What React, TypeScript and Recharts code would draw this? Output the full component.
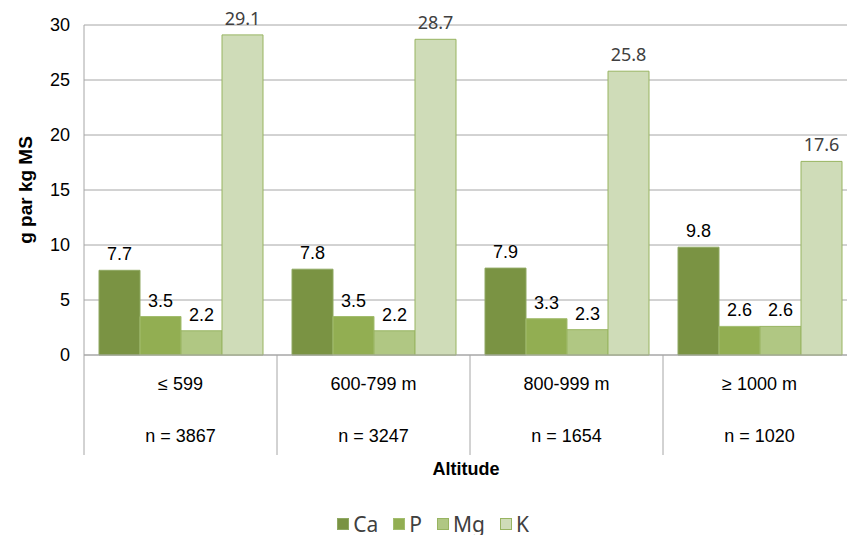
import { BarChart, Bar, XAxis, YAxis, CartesianGrid, LabelList, Label } from "recharts";

const categories = ["≤ 599", "600-799 m", "800-999 m", "≥ 1000 m"];
const counts = ["n = 3867", "n = 3247", "n = 1654", "n = 1020"];
const ca = [7.7, 7.8, 7.9, 9.8];
const p = [3.5, 3.5, 3.3, 2.6];
const mg = [2.2, 2.2, 2.3, 2.6];
const k = [29.1, 28.7, 25.8, 17.6];
const yTicks = [0, 5, 10, 15, 20, 25, 30];

const series = [
  { key: "Ca", fill: "#7A9343", stroke: "#8FA862" },
  { key: "P", fill: "#92AE52", stroke: "#A3BD6E" },
  { key: "Mg", fill: "#B0C783", stroke: "#98B461" },
  { key: "K", fill: "#CFDCB8", stroke: "#98B461" },
];

const data = categories.map((cat, i) => ({
  cat,
  n: counts[i],
  Ca: ca[i],
  P: p[i],
  Mg: mg[i],
  K: k[i],
}));

const ARIAL = "'Liberation Sans', Arial, sans-serif";
const MALGUN = "'Noto Sans', 'Open Sans', sans-serif";

const CategoryTick = ({ x, y, payload, index }: any) => {
  const half = payload?.offset ?? 96.5;
  const row = data[index] ?? data.find((d) => d.cat === payload.value);
  return (
    <g>
      <line x1={x - half} y1={y} x2={x - half} y2={y + 100} stroke="#A6A6A6" strokeWidth={1} />
      <text x={x} y={y + 35} textAnchor="middle" fontSize={18} fontFamily={ARIAL} fill="#000">
        {payload.value}
      </text>
      <text x={x} y={y + 87} textAnchor="middle" fontSize={18} fontFamily={ARIAL} fill="#000">
        {row?.n}
      </text>
    </g>
  );
};

const makeLabel = (dark: boolean) => (props: any) => {
  const { x, y, width, value } = props;
  return (
    <text
      x={x + width / 2}
      y={y - 10}
      textAnchor="middle"
      fontSize={18}
      fontFamily={dark ? ARIAL : MALGUN}
      fill={dark ? "#000" : "#404040"}
    >
      {value}
    </text>
  );
};

export default function App() {
  return (
    <div
      style={{
        position: "absolute",
        left: 0,
        top: 0,
        width: 847,
        height: 535,
        overflow: "hidden",
        background: "#fff",
      }}
    >
      <BarChart
        width={860}
        height={535}
        data={data}
        margin={{ top: 25, right: 4, left: 0, bottom: 80 }}
        barCategoryGap={15}
        barGap={0}
      >
        <CartesianGrid vertical={false} stroke="#A6A6A6" />
        <XAxis
          dataKey="cat"
          height={100}
          interval={0}
          tickSize={0}
          tickMargin={0}
          axisLine={{ stroke: "#A6A6A6" }}
          tick={<CategoryTick />}
        >
          <Label
            value="Altitude"
            position="bottom"
            offset={7}
            dx={-4}
            style={{ fontFamily: ARIAL, fontSize: 18, fontWeight: "bold", fill: "#000" }}
          />
        </XAxis>
        <YAxis
          width={84}
          domain={[0, 30]}
          ticks={yTicks}
          tickSize={0}
          tickMargin={14}
          axisLine={{ stroke: "#A6A6A6" }}
          tick={{ fill: "#000", fontSize: 18, fontFamily: ARIAL }}
        >
          <Label
            value="g par kg MS"
            angle={-90}
            position="insideLeft"
            offset={25}
            style={{ textAnchor: "middle", fontFamily: ARIAL, fontSize: 19, fontWeight: "bold", fill: "#000" }}
          />
        </YAxis>
        {series.map((s) => (
          <Bar
            key={s.key}
            dataKey={s.key}
            fill={s.fill}
            stroke={s.stroke}
            strokeWidth={1}
            isAnimationActive={false}
          >
            <LabelList dataKey={s.key} content={makeLabel(s.key !== "K")} />
          </Bar>
        ))}
      </BarChart>
      <div
        style={{
          position: "absolute",
          top: 510,
          left: 0,
          width: 866,
          display: "flex",
          justifyContent: "center",
          gap: 15,
          fontFamily: MALGUN,
          fontSize: 21,
          color: "#404040",
        }}
      >
        {series.map((s) => (
          <div key={s.key} style={{ display: "flex", alignItems: "center", gap: 4 }}>
            <span
              style={{
                display: "inline-block",
                width: 10,
                height: 10,
                background: s.fill,
                border: `1px solid ${s.stroke}`,
              }}
            />
            <span>{s.key}</span>
          </div>
        ))}
      </div>
    </div>
  );
}
